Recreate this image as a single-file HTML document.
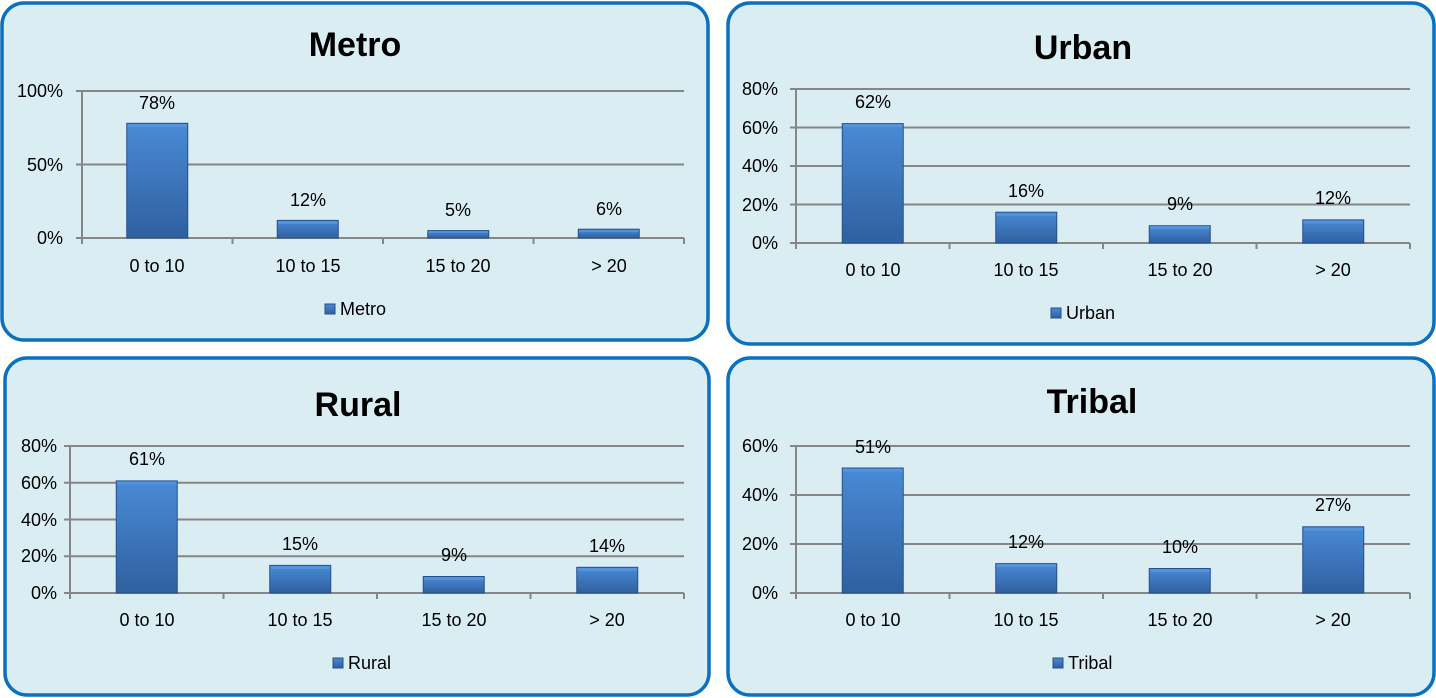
<!DOCTYPE html>
<html><head><meta charset="utf-8"><style>
body{margin:0;background:#fff;width:1436px;height:698px;overflow:hidden}
svg{display:block}
text{font-family:"Liberation Sans",sans-serif;fill:#000}
.t{font-size:18px}
.h{font-size:34px;font-weight:bold}
</style></head><body>
<svg width="1436" height="698" viewBox="0 0 1436 698">
<defs>
<linearGradient id="g" x1="0" y1="0" x2="0" y2="1"><stop offset="0" stop-color="#4a8ad6"/><stop offset="1" stop-color="#2f609f"/></linearGradient>
</defs>
<g fill="#daedf3" stroke="#0a70c0" stroke-width="3.5">
<rect x="2" y="3" width="706" height="337" rx="22"/>
<rect x="728" y="3" width="706" height="341" rx="22"/>
<rect x="5" y="358" width="704" height="337" rx="22"/>
<rect x="728" y="358" width="706" height="337" rx="22"/>
</g>
<g stroke="#868686" stroke-width="2" fill="none">
<path d="M76 91H684M76 164.5H684M76 238H684M82 91V244M232.5 238V244M383 238V244M533.5 238V244M684 238V244"/>
<path d="M790 89H1410M790 127.5H1410M790 166H1410M790 204.5H1410M790 243H1410M796 89V249M949.5 243V249M1103 243V249M1256.5 243V249M1410 243V249"/>
<path d="M64 446H684M64 482.75H684M64 519.5H684M64 556.25H684M64 593H684M70 446V599M223.5 593V599M377 593V599M530.5 593V599M684 593V599"/>
<path d="M790 446H1410M790 495H1410M790 544H1410M790 593H1410M796 446V599M949.5 593V599M1103 593V599M1256.5 593V599M1410 593V599"/>
</g>
<g fill="url(#g)" stroke="#24508a" stroke-width="1">
<rect x="126.75" y="123.3" width="61" height="114.7"/>
<rect x="277.25" y="220.4" width="61" height="17.6"/>
<rect x="427.75" y="230.6" width="61" height="7.4"/>
<rect x="578.25" y="229.2" width="61" height="8.8"/>
<rect x="842.25" y="123.6" width="61" height="119.4"/>
<rect x="995.75" y="212.2" width="61" height="30.8"/>
<rect x="1149.25" y="225.7" width="61" height="17.3"/>
<rect x="1302.75" y="219.9" width="61" height="23.1"/>
<rect x="116.25" y="480.9" width="61" height="112.1"/>
<rect x="269.75" y="565.4" width="61" height="27.6"/>
<rect x="423.25" y="576.5" width="61" height="16.5"/>
<rect x="576.75" y="567.3" width="61" height="25.7"/>
<rect x="842.25" y="468" width="61" height="125"/>
<rect x="995.75" y="563.6" width="61" height="29.4"/>
<rect x="1149.25" y="568.5" width="61" height="24.5"/>
<rect x="1302.75" y="526.8" width="61" height="66.2"/>
</g>
<g fill="#5b9be6" opacity="0.6">
<rect x="127.5" y="124" width="59.5" height="3"/><rect x="278" y="221" width="59.5" height="3"/><rect x="428.5" y="231" width="59.5" height="2"/><rect x="579" y="230" width="59.5" height="2"/>
<rect x="843" y="124" width="59.5" height="3"/><rect x="996.5" y="213" width="59.5" height="3"/><rect x="1150" y="226" width="59.5" height="3"/><rect x="1303.5" y="220.5" width="59.5" height="3"/>
<rect x="117" y="481.5" width="59.5" height="3"/><rect x="270.5" y="566" width="59.5" height="3"/><rect x="424" y="577" width="59.5" height="3"/><rect x="577.5" y="568" width="59.5" height="3"/>
<rect x="843" y="468.5" width="59.5" height="3"/><rect x="996.5" y="564" width="59.5" height="3"/><rect x="1150" y="569" width="59.5" height="3"/><rect x="1303.5" y="527.5" width="59.5" height="3"/>
</g>
<text class="h" x="355" y="56" text-anchor="middle">Metro</text>
<text class="h" x="1083" y="59" text-anchor="middle">Urban</text>
<text class="h" x="358" y="416" text-anchor="middle">Rural</text>
<text class="h" x="1092" y="413" text-anchor="middle">Tribal</text>
<g class="t" text-anchor="end">
<text x="63" y="97">100%</text><text x="63" y="171">50%</text><text x="63" y="244">0%</text>
<text x="778" y="95">80%</text><text x="778" y="134">60%</text><text x="778" y="172">40%</text><text x="778" y="211">20%</text><text x="778" y="249">0%</text>
<text x="57" y="452">80%</text><text x="57" y="489">60%</text><text x="57" y="526">40%</text><text x="57" y="562">20%</text><text x="57" y="599">0%</text>
<text x="778" y="452">60%</text><text x="778" y="501">40%</text><text x="778" y="550">20%</text><text x="778" y="599">0%</text>
</g>
<g class="t" text-anchor="middle">
<text x="157" y="272">0 to 10</text><text x="308" y="272">10 to 15</text><text x="458" y="272">15 to 20</text><text x="609" y="272">&gt; 20</text>
<text x="157" y="109">78%</text><text x="308" y="206">12%</text><text x="458" y="216">5%</text><text x="609" y="215">6%</text>
<text x="873" y="276">0 to 10</text><text x="1026" y="276">10 to 15</text><text x="1180" y="276">15 to 20</text><text x="1333" y="276">&gt; 20</text>
<text x="873" y="108">62%</text><text x="1026" y="197">16%</text><text x="1180" y="210">9%</text><text x="1333" y="204">12%</text>
<text x="147" y="626">0 to 10</text><text x="300" y="626">10 to 15</text><text x="454" y="626">15 to 20</text><text x="607" y="626">&gt; 20</text>
<text x="147" y="465">61%</text><text x="300" y="550">15%</text><text x="454" y="561">9%</text><text x="607" y="552">14%</text>
<text x="873" y="626">0 to 10</text><text x="1026" y="626">10 to 15</text><text x="1180" y="626">15 to 20</text><text x="1333" y="626">&gt; 20</text>
<text x="873" y="453">51%</text><text x="1026" y="548">12%</text><text x="1180" y="553">10%</text><text x="1333" y="511">27%</text>
</g>
<g fill="url(#g)" stroke="#24508a" stroke-width="1">
<rect x="325" y="304" width="10" height="10"/>
<rect x="1051" y="308" width="10" height="10"/>
<rect x="333" y="658" width="10" height="10"/>
<rect x="1053" y="658" width="10" height="10"/>
</g>
<g class="t">
<text x="340" y="315">Metro</text>
<text x="1066" y="319">Urban</text>
<text x="348" y="669">Rural</text>
<text x="1068" y="669">Tribal</text>
</g>
</svg>
</body></html>
